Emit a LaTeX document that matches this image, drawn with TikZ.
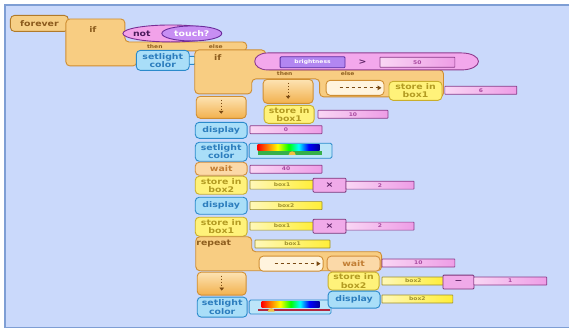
\documentclass[tikz,border=0pt]{standalone}
\usepackage{fontspec}
\usepackage{xcolor}
\usepackage{tikz}
\usetikzlibrary{arrows.meta,positioning,shapes.geometric}
\newfontfamily\blkfont[FakeStretch=1.2]{DejaVu Sans Bold}
\newcommand{\bgtx}{\blkfont\fontsize{7.8}{8.3}\selectfont}
\newcommand{\smtx}{\blkfont\fontsize{5}{6}\selectfont}
\definecolor{bgfl}{HTML}{CAD9FB}
\definecolor{frmln}{HTML}{7E9ED4}
\definecolor{fvfl}{HTML}{F6CF86}
\definecolor{fvln}{HTML}{B07A2A}
\definecolor{fvtx}{HTML}{8B5A1C}
\definecolor{ctlfl}{HTML}{F8CD82}
\definecolor{ctlln}{HTML}{CF8E32}
\definecolor{ctltx}{HTML}{8E5E1E}
\definecolor{slttp}{HTML}{FDE3B3}
\definecolor{sltbt}{HTML}{F2B14E}
\definecolor{hslfl}{HTML}{FFF4DE}
\definecolor{arrc}{HTML}{7A4A12}
\definecolor{cmdfl}{HTML}{A9DEF8}
\definecolor{cmdln}{HTML}{2A8ACB}
\definecolor{cmdtx}{HTML}{2C7DBD}
\definecolor{pluglt}{HTML}{C7EAFB}
\definecolor{stofl}{HTML}{FFF27A}
\definecolor{stoln}{HTML}{C9AE2C}
\definecolor{stotx}{HTML}{B39B22}
\definecolor{wtfl}{HTML}{FBD9A8}
\definecolor{wtln}{HTML}{D48E3A}
\definecolor{wttx}{HTML}{C27E34}
\definecolor{vpl}{HTML}{F9D6F4}
\definecolor{vpr}{HTML}{EE9DE6}
\definecolor{vpln}{HTML}{8A3A88}
\definecolor{vptx}{HTML}{A84AA0}
\definecolor{vyl}{HTML}{FFF8B8}
\definecolor{vyr}{HTML}{FFEE38}
\definecolor{vyln}{HTML}{9C8F2A}
\definecolor{vytx}{HTML}{A0922E}
\definecolor{opfl}{HTML}{F0AAE9}
\definecolor{opln}{HTML}{7A3478}
\definecolor{optx}{HTML}{5A2062}
\definecolor{prdfl}{HTML}{F3A8EC}
\definecolor{prdln}{HTML}{8E3C8E}
\definecolor{notfl}{HTML}{F2A2E9}
\definecolor{notln}{HTML}{7A2E94}
\definecolor{nottx}{HTML}{4A1A5A}
\definecolor{tchfl}{HTML}{C78EF3}
\definecolor{tchln}{HTML}{6A2C9C}
\definecolor{brtfl}{HTML}{B286F1}
\definecolor{brtln}{HTML}{5B2EA0}
\definecolor{sldfl}{HTML}{BCE5F9}
\definecolor{grnbar}{HTML}{35B04A}
\definecolor{redbar}{HTML}{B3263E}
\definecolor{knob}{HTML}{F2C040}
\pgfdeclarehorizontalshading{rainbowbar}{100bp}{color(0bp)=(red); color(25bp)=(red);
  color(33bp)=(orange); color(41bp)=(yellow); color(50bp)=(green); color(58bp)=(cyan);
  color(66bp)=(blue); color(75bp)=(blue!60!black); color(100bp)=(blue!60!black)}

\begin{document}
\begin{tikzpicture}[x=1pt,y=-1pt,
  blk/.style={rounded corners=4pt,line width=0.9pt,inner sep=0pt,anchor=north west,
              align=center,font=\bgtx},
  sz/.style 2 args={minimum width=#1pt,minimum height=#2pt},
  ctlpath/.style={draw=ctlln,fill=ctlfl,line width=0.9pt,rounded corners=4pt},
  slot/.style={blk,draw=ctlln,top color=slttp,bottom color=sltbt},
  hslot/.style={blk,draw=ctlln,fill=hslfl},
  cmd/.style={blk,draw=cmdln,fill=cmdfl,text=cmdtx},
  stor/.style={blk,draw=stoln,fill=stofl,text=stotx},
  waitb/.style={blk,draw=wtln,fill=wtfl,text=wttx},
  valp/.style={blk,rounded corners=0.5pt,line width=0.7pt,draw=vpln,left color=vpl,
               right color=vpr,text=vptx,font=\smtx},
  valy/.style={blk,rounded corners=0.5pt,line width=0.7pt,draw=vyln,left color=vyl,
               right color=vyr,text=vytx,font=\smtx},
  opbox/.style={blk,rounded corners=1pt,line width=0.8pt,draw=opln,fill=opfl,text=optx},
  sldr/.style={blk,rounded corners=1.5pt,line width=0.8pt,draw=cmdln,fill=sldfl},
  oval/.style={ellipse,line width=0.9pt,inner sep=0pt,font=\bgtx},
  lbl/.style={inner sep=0pt,font=\smtx,text=ctltx},
  dotarr/.style={draw=arrc,line width=1.3pt,dash pattern=on 1.3pt off 1.7pt,
                 -{Triangle[length=3pt,width=4.5pt]}},
  dasharr/.style={draw=arrc,line width=1pt,dash pattern=on 3pt off 3pt,
                  -{Triangle[length=4pt,width=4.5pt]}}]
  % frame
  \fill[white] (0,0) rectangle (570,331);
  \fill[bgfl] (5,5) rectangle (570,328);
  \draw[frmln,line width=1.2pt] (570,5) -- (5,5) -- (5,328) -- (570,328);
  \useasboundingbox (0,0) rectangle (570,331);

  % forever and the outer if
  \node[blk,draw=fvln,fill=fvfl,text=fvtx,sz={58}{16}] (fvr) at (10,15) {forever};
  \filldraw[ctlpath] (66,19) -- (125,19) -- (125,42) -- (247,42) -- (247,51)
    -- (137,51) -- (137,66) -- (66,66) -- cycle;
  \node[lbl,font=\bgtx] (if1) at (93,30) {if};
  \node[lbl] (thn1) at (155,47) {then};
  \node[lbl] (els1) at (216,47) {else};
  \node[oval,draw=notln,fill=notfl,sz={96}{17}] (notp) at (171,33.5) {};
  \node[inner sep=0pt,font=\bgtx,text=nottx] (nott) at (142,33.5) {not};
  \node[oval,draw=tchln,fill=tchfl,text=white,sz={60}{15}] (tch) at (192,33.5) {touch?};
  \node[blk,rounded corners=1pt,draw=cmdln,fill=pluglt,sz={7}{8}] (set1p) at (188,56) {};
  \node[cmd,sz={53}{20}] (set1) at (136,50) {setlight\\color};

  % inner if
  \filldraw[ctlpath] (195,50) -- (266,50) -- (266,70) -- (444,70) -- (444,97)
    -- (320,97) -- (320,79) -- (252,79) -- (252,94) -- (195,94) -- cycle;
  \node[lbl,font=\bgtx] (if2) at (218,58) {if};
  \node[lbl] (thn2) at (285,74) {then};
  \node[lbl] (els2) at (348,74) {else};
  \filldraw[draw=prdln,fill=prdfl,line width=0.9pt] (268,53) -- (462,53)
    .. controls (472,53) and (479,57) .. (479,61.5)
    .. controls (479,66) and (472,70) .. (462,70) -- (268,70)
    .. controls (260,70) and (255,66) .. (255,61.5)
    .. controls (255,57) and (260,53) .. (268,53) -- cycle;
  \node[blk,rounded corners=1pt,line width=0.8pt,draw=brtln,fill=brtfl,text=white,
        font=\smtx,sz={65}{11}] (brt) at (280,56.5) {brightness};
  \node[inner sep=0pt,font=\bgtx,text=optx] (gt) at (363,62) {>};
  \node[valp,sz={75}{10}] (v50) at (380,57) {50};

  \node[slot,sz={50}{24}] (sl1) at (263,79) {};
  \draw[dotarr] ([yshift=-4pt]sl1.north) -- ([yshift=5pt]sl1.south);
  \node[hslot,sz={58}{15}] (hs1) at (326,80) {};
  \draw[dasharr] ([xshift=14pt]hs1.west) -- ([xshift=-3pt]hs1.east);
  \node[stor,sz={53}{19}] (st6) at (389,81) {store in\\box1};
  \node[valp,sz={72}{8}] (v6) at (445,86) {6};
  \node[stor,sz={50}{18}] (st10) at (264,105) {store in\\box1};
  \node[valp,sz={70}{8}] (v10a) at (318,110) {10};

  % else column
  \node[slot,sz={50}{22}] (sl2) at (196,96) {};
  \draw[dotarr] ([yshift=-4pt]sl2.north) -- ([yshift=5pt]sl2.south);
  \node[cmd,sz={52}{16}] (dsp1) at (195,122) {display};
  \node[valp,sz={72}{8}] (v0) at (250,125.5) {0};
  \node[sldr,sz={83}{15}] (sld1) at (249,143) {};
  \shade[shading=rainbowbar] (258,145) rectangle (320,150.5);
  \fill[grnbar] (258,151) rectangle (322,155);
  \fill[knob] (289,155) arc[start angle=180,end angle=0,radius=3.5pt] -- cycle;
  \node[cmd,sz={52}{19}] (set2) at (195,142) {setlight\\color};
  \node[waitb,sz={52}{13}] (wt40) at (195,162) {wait};
  \node[valp,sz={72}{8}] (v40) at (250,165) {40};
  \node[stor,sz={52}{18}] (st2a) at (195,176) {store in\\box2};
  \node[valy,sz={64}{9}] (vb1a) at (250,180) {box1};
  \node[opbox,sz={33}{14}] (mul1) at (313,178) {×};
  \node[valp,sz={68}{8}] (v2a) at (346,181) {2};
  \node[cmd,sz={52}{17}] (dsp2) at (195,197) {display};
  \node[valy,sz={72}{8}] (vb2a) at (250,201.5) {box2};
  \node[stor,sz={52}{19}] (st1b) at (195,217) {store in\\box1};
  \node[valy,sz={64}{8}] (vb1b) at (250,222) {box1};
  \node[opbox,sz={33}{14}] (mul2) at (313,219) {×};
  \node[valp,sz={68}{8}] (v2b) at (346,222) {2};

  % repeat
  \filldraw[ctlpath] (196,237) -- (252,237) -- (252,252) -- (382,252) -- (382,271)
    -- (196,271) -- cycle;
  \node[lbl,font=\bgtx] (rpt) at (214,244) {repeat};
  \node[valy,sz={75}{8}] (vb1c) at (255,240) {box1};
  \node[hslot,sz={64}{15}] (hs2) at (259,256) {};
  \draw[dasharr] ([xshift=16pt]hs2.west) -- ([xshift=-3pt]hs2.east);
  \node[waitb,sz={53}{15}] (wt10) at (327,256) {wait};
  \node[valp,sz={73}{8}] (v10b) at (382,259) {10};
  \node[stor,sz={51}{18}] (st2b) at (328,272) {store in\\box2};
  \node[valy,sz={63}{8}] (vb2b) at (382,277) {box2};
  \node[opbox,sz={31}{14}] (sub1) at (443,275) {−};
  \node[valp,sz={73}{8}] (v1) at (474,277) {1};
  \node[slot,sz={49}{23}] (sl3) at (197,272) {};
  \draw[dotarr] ([yshift=-4pt]sl3.north) -- ([yshift=5pt]sl3.south);
  \node[sldr,sz={82}{14}] (sld2) at (249,300) {};
  \shade[shading=rainbowbar] (262,302) rectangle (320,308);
  \fill[redbar] (258,309) rectangle (330,311);
  \fill[knob] (268,312) arc[start angle=180,end angle=0,radius=3.5pt] -- cycle;
  \node[cmd,sz={50}{20}] (set3) at (197,297) {setlight\\color};
  \node[cmd,sz={52}{17}] (dsp3) at (328,291) {display};
  \node[valy,sz={71}{8}] (vb2c) at (382,295) {box2};
\end{tikzpicture}
\end{document}
